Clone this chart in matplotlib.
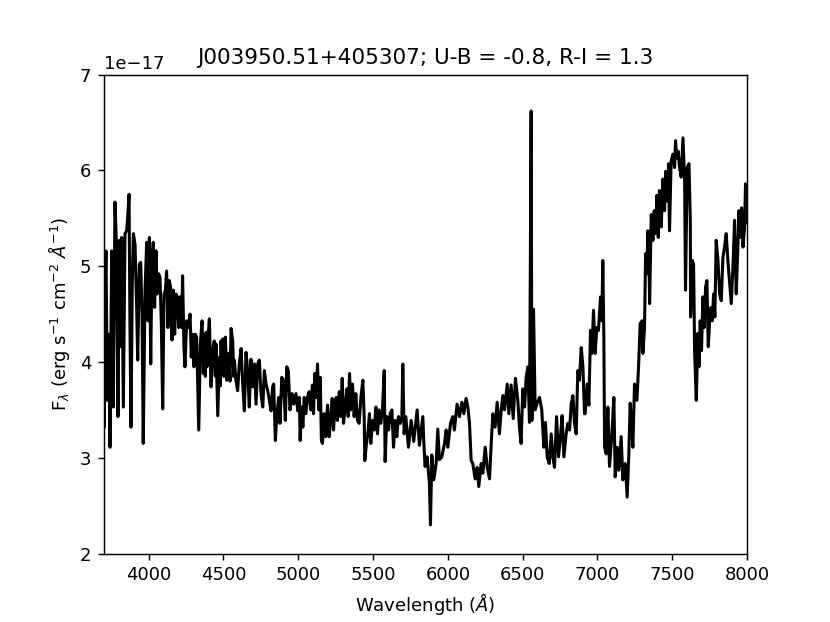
import matplotlib
matplotlib.use('Agg')
import matplotlib.pyplot as plt
import numpy as np

# spectrum, flux in units of 1e-17
# blue end 3700-4335
wave_a = [3700, 3704, 3708, 3715, 3724, 3733, 3742, 3753, 3764, 3775, 3786, 3795, 3804, 3813, 3820,
          3831, 3842, 3853, 3860, 3869, 3875, 3882, 3891, 3898, 3909, 3920, 3927, 3938, 3947, 3956,
          3964, 3976, 3987, 3996, 4005, 4014, 4022, 4031, 4040, 4049, 4058, 4067, 4076, 4085, 4094,
          4103, 4112, 4120, 4129, 4138, 4147, 4156, 4165, 4174, 4183, 4192, 4201, 4210, 4221, 4227,
          4236, 4243, 4254, 4265, 4277, 4285, 4294, 4303, 4312, 4321, 4335]
flux_a = [4.40, 3.32, 4.75, 5.16, 3.60, 4.29, 3.11, 5.16, 3.53, 5.67, 5.16, 3.43, 5.27, 4.16, 5.30,
          3.53, 5.34, 5.37, 5.51, 5.75, 4.43, 3.32, 4.85, 5.34, 5.23, 4.57, 4.02, 5.02, 5.04, 4.50,
          3.15, 4.75, 5.25, 4.43, 5.30, 3.98, 5.06, 5.25, 4.57, 5.16, 4.71, 4.92, 4.88, 4.40, 3.51,
          4.71, 4.75, 4.95, 4.36, 4.85, 4.78, 4.23, 4.75, 4.29, 4.71, 4.68, 4.36, 4.68, 4.36, 4.90,
          4.16, 3.95, 4.43, 4.36, 4.50, 4.05, 4.29, 3.95, 4.29, 4.26, 3.29]

# 4346-5008
wave_b = [4346, 4357, 4366, 4372, 4379, 4384, 4390, 4395, 4406, 4417, 4428, 4439, 4446, 4450, 4462,
          4473, 4479, 4484, 4491, 4495, 4502, 4506, 4513, 4522, 4535, 4544, 4551, 4562, 4569, 4573,
          4584, 4595, 4606, 4618, 4629, 4640, 4651, 4662, 4673, 4684, 4696, 4707, 4718, 4729, 4740,
          4751, 4763, 4774, 4785, 4796, 4807, 4818, 4829, 4836, 4847, 4858, 4870, 4878, 4890, 4901,
          4914, 4923, 4934, 4945, 4959, 4970, 4985, 4997, 5008]
flux_b = [4.19, 4.43, 3.88, 4.26, 3.85, 4.31, 3.95, 4.19, 4.45, 3.74, 4.12, 4.22, 3.85, 4.19, 3.44,
          4.05, 3.75, 4.22, 3.90, 4.24, 3.85, 4.22, 4.26, 3.81, 4.09, 3.80, 4.35, 4.22, 3.85, 4.02,
          3.81, 3.70, 3.98, 4.14, 3.77, 3.49, 4.10, 3.91, 3.53, 4.03, 3.74, 3.98, 3.56, 3.98, 4.02,
          3.67, 3.53, 3.91, 3.77, 3.70, 3.60, 3.49, 3.74, 3.77, 3.18, 3.46, 3.63, 3.36, 3.84, 3.81,
          3.39, 3.95, 3.91, 3.50, 3.67, 3.56, 3.67, 3.49, 3.63]

# 5013-5719
wave_c = [5013, 5022, 5031, 5040, 5051, 5062, 5073, 5084, 5095, 5102, 5111, 5120, 5129, 5138, 5147,
          5155, 5162, 5173, 5184, 5196, 5207, 5218, 5227, 5236, 5245, 5254, 5262, 5274, 5285, 5294,
          5303, 5312, 5325, 5334, 5343, 5352, 5363, 5374, 5385, 5396, 5407, 5419, 5432, 5441, 5445,
          5456, 5468, 5476, 5485, 5497, 5508, 5519, 5530, 5541, 5552, 5563, 5575, 5581, 5592, 5604,
          5615, 5626, 5637, 5648, 5659, 5670, 5682, 5693, 5699, 5708, 5719]
flux_c = [3.18, 3.53, 3.32, 3.63, 3.46, 3.63, 3.69, 3.50, 3.76, 3.46, 3.88, 3.63, 3.98, 3.50, 3.84,
          3.18, 3.15, 3.46, 3.22, 3.55, 3.22, 3.43, 3.62, 3.29, 3.53, 3.63, 3.39, 3.69, 3.43, 3.83,
          3.36, 3.50, 3.72, 3.43, 3.88, 3.50, 3.77, 3.43, 3.67, 3.39, 3.36, 3.63, 3.81, 3.43, 2.97,
          3.15, 3.29, 3.46, 3.15, 3.39, 3.29, 3.53, 3.25, 3.50, 3.36, 3.50, 3.91, 2.96, 3.43, 3.29,
          3.46, 3.50, 3.11, 3.39, 3.22, 3.43, 3.36, 3.43, 3.98, 3.25, 3.43]

# 5737-6914, Na D dip and H-alpha
wave_d = [5737, 5755, 5772, 5795, 5810, 5833,
          5839, 5848, 5862, 5877, 5884, 5893, 5906, 5922, 5933, 5944, 5960, 5978, 5989, 6000, 6018,
          6033, 6044, 6062, 6078, 6094, 6107, 6122, 6134, 6145, 6156, 6167, 6183, 6196, 6207, 6223,
          6234, 6250, 6263, 6279, 6290, 6301, 6316, 6330, 6345, 6357, 6368, 6379, 6397, 6408, 6423,
          6437, 6452, 6468, 6479, 6490, 6501, 6513, 6524, 6535, 6546, 6557, 6562, 6573, 6584, 6597,
          6613, 6628, 6642, 6653, 6664, 6678, 6691, 6702, 6713, 6727, 6740, 6753, 6764, 6776, 6791,
          6802, 6814, 6825, 6836, 6847, 6858, 6869, 6880, 6892, 6903, 6914]
flux_d = [3.11, 3.39, 3.17, 3.50, 3.13, 3.43,
          3.18, 2.91, 3.01, 2.73, 2.30, 3.03, 2.77, 2.94, 3.30, 2.98, 3.01, 3.15, 3.29, 3.11, 3.36,
          3.43, 3.29, 3.56, 3.43, 3.58, 3.46, 3.62, 3.53, 3.36, 2.97, 2.94, 2.78, 2.90, 2.70, 2.94,
          2.84, 3.11, 2.90, 2.78, 3.15, 3.46, 3.32, 3.58, 3.25, 3.50, 3.65, 3.50, 3.77, 3.46, 3.76,
          3.41, 3.83, 3.60, 3.32, 3.15, 3.72, 3.53, 3.84, 3.95, 3.37, 6.62, 3.39, 4.55, 3.50, 3.57,
          3.63, 3.50, 3.11, 3.37, 3.01, 2.94, 3.25, 3.01, 2.90, 3.43, 3.01, 3.22, 3.44, 3.01, 3.25,
          3.36, 3.29, 3.56, 3.65, 3.36, 3.25, 3.91, 3.81, 4.15, 3.95, 3.46]

# 6918-7299, TiO bands
wave_e = [6918, 6932, 6943, 6954, 6963, 6974, 6985, 6996, 7007, 7021, 7030, 7036, 7043, 7048, 7059,
          7070, 7081, 7097, 7110, 7119, 7132, 7143, 7159, 7170, 7186, 7199, 7210, 7219, 7230, 7237,
          7248, 7264, 7275, 7286, 7299]
flux_e = [3.46, 3.77, 3.55, 4.33, 4.09, 4.54, 4.09, 4.36, 4.33, 4.68, 4.43, 5.06, 4.26, 3.11, 3.04,
          3.53, 2.91, 3.25, 3.63, 2.80, 3.11, 2.87, 3.22, 2.77, 2.94, 2.59, 3.04, 3.57, 3.32, 3.11,
          3.77, 3.60, 3.95, 4.40, 4.43]

# red end 7304-8003
wave_f = [7304, 7315, 7322, 7331, 7337, 7344, 7349, 7360, 7371, 7380, 7389, 7398, 7407, 7415, 7427,
          7438, 7449, 7456, 7467, 7476, 7482, 7493, 7505, 7516, 7522, 7531, 7540, 7549, 7560, 7572,
          7583, 7589, 7600, 7612, 7621, 7623, 7634, 7643, 7650, 7661, 7672, 7679, 7687, 7696, 7705,
          7714, 7723, 7732, 7741, 7750, 7759, 7768, 7777, 7785, 7794, 7806, 7817, 7828, 7839, 7850,
          7861, 7872, 7884, 7895, 7906, 7917, 7928, 7939, 7946, 7955, 7964, 7973, 7984, 7990, 7997,
          8003]
flux_f = [4.09, 4.36, 5.13, 4.92, 5.37, 5.20, 4.61, 5.54, 5.27, 5.58, 5.34, 5.74, 5.30, 5.79, 5.41,
          5.91, 5.58, 5.99, 5.68, 6.07, 5.37, 6.10, 6.17, 6.03, 6.31, 6.13, 6.20, 6.03, 5.93, 6.34,
          5.89, 4.75, 6.03, 6.07, 5.48, 4.47, 5.06, 5.02, 4.09, 3.60, 4.30, 3.95, 4.43, 4.12, 4.68,
          4.36, 4.78, 4.85, 4.16, 4.43, 4.57, 4.43, 4.71, 4.47, 5.27, 5.06, 4.71, 4.64, 5.09, 5.20,
          5.34, 5.06, 4.82, 4.61, 4.99, 5.48, 4.71, 5.20, 5.58, 5.30, 5.61, 5.20, 5.41, 5.86, 5.45,
          5.70]

title = 'J003950.51+405307; U-B = -0.8, R-I = 1.3'

wave = np.concatenate([wave_a, wave_b, wave_c, wave_d, wave_e, wave_f])
flux = np.concatenate([flux_a, flux_b, flux_c, flux_d, flux_e, flux_f]) * 1e-17

fig = plt.figure(figsize=(830 / 130, 622 / 130), dpi=130)
ax = fig.add_subplot(111)
ax.plot(wave, flux, color='k', lw=1.7)
ax.set_xlim(3700, 8000)
ax.set_ylim(2e-17, 7e-17)
ax.set_xlabel(r'Wavelength ($\AA$)')
ax.set_ylabel(r'F$_\lambda$ (erg s$^{-1}$ cm$^{-2}$ $\AA^{-1}$)')
ax.set_title(title)
fig.savefig('out.png', dpi=130)
